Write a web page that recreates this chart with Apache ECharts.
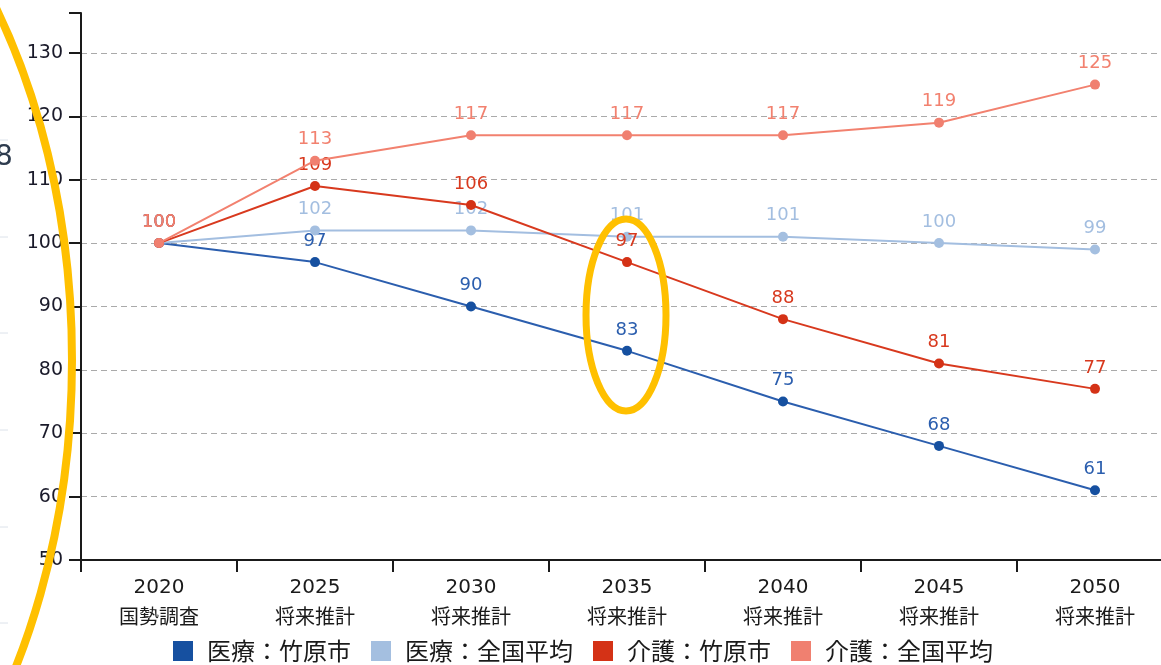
<!DOCTYPE html>
<html>
<head>
<meta charset="utf-8">
<script src="https://cdn.jsdelivr.net/npm/echarts@6/dist/echarts.min.js"></script>
<style>
html,body{margin:0;padding:0;background:#fff;}
#main{width:1161px;height:665px;}
</style>
</head>
<body>
<div id="main"></div>
<script>
const years = ['2020', '2025', '2030', '2035', '2040', '2045', '2050'];
const kinds = ['国勢調査', '将来推計', '将来推計', '将来推計', '将来推計', '将来推計', '将来推計'];
const seriesNames = ['医療：竹原市', '医療：全国平均', '介護：竹原市', '介護：全国平均'];
const iryoTakehara = [100, 97, 90, 83, 75, 68, 61];
const iryoZenkoku = [100, 102, 102, 101, 101, 100, 99];
const kaigoTakehara = [100, 109, 106, 97, 88, 81, 77];
const kaigoZenkoku = [100, 113, 117, 117, 117, 119, 125];
const yTicks = [50, 60, 70, 80, 90, 100, 110, 120, 130];

const colors = ['#2b5eae', '#a3bee0', '#d8391e', '#f2816f'];
const legendColors = ['#1650a0', '#a4bfe0', '#d43216', '#f08070'];
const values = [iryoTakehara, iryoZenkoku, kaigoTakehara, kaigoZenkoku];

const chart = echarts.init(document.getElementById('main'));
const categories = years.map((y, i) => y + '\n' + kinds[i]);

const series = seriesNames.map((name, i) => ({
  name: name,
  type: 'line',
  data: values[i],
  symbol: 'circle',
  symbolSize: 10,
  showSymbol: true,
  lineStyle: { color: colors[i], width: 2 },
  itemStyle: { color: legendColors[i] },
  label: {
    show: true,
    position: 'top',
    distance: 7,
    color: colors[i],
    fontSize: 18,
    fontFamily: 'DejaVu Sans'
  },
  emphasis: { disabled: true },
  z: 2 + i
}));

const leftLines = [140, 237, 333, 430, 527, 623].map(y => ({
  type: 'line',
  shape: { x1: 0, y1: y, x2: 8, y2: y },
  style: { stroke: '#dce2ea', lineWidth: 1 },
  z: 50
}));

chart.setOption({
  animation: false,
  backgroundColor: '#fff',
  grid: { left: 81, width: 1092, top: 13, bottom: 105, containLabel: false, outerBoundsMode: 'none' },
  legend: {
    data: seriesNames,
    left: 168,
    top: 634,
    icon: 'rect',
    itemWidth: 20,
    itemHeight: 20,
    itemGap: 20,
    textStyle: {
      fontSize: 24,
      color: '#1a1a1a',
      fontFamily: 'Noto Sans CJK JP',
      padding: [0, 0, 0, 9]
    }
  },
  xAxis: {
    type: 'category',
    data: categories,
    boundaryGap: true,
    axisLine: { lineStyle: { color: '#1a1a1a', width: 2 } },
    axisTick: { show: true, length: 12, lineStyle: { color: '#1a1a1a', width: 2 } },
    axisLabel: {
      color: '#1a1a1a',
      fontSize: 20,
      lineHeight: 31,
      margin: 12,
      fontFamily: "'DejaVu Sans', 'Noto Sans CJK JP'"
    },
    splitLine: { show: false }
  },
  yAxis: {
    type: 'value',
    min: yTicks[0],
    max: 136.3,
    interval: 10,
    axisLine: { show: true, lineStyle: { color: '#1a1a1a', width: 2 } },
    axisTick: { show: true, length: 12, lineStyle: { color: '#1a1a1a', width: 2 } },
    axisLabel: {
      color: '#1a1a2a',
      fontSize: 19,
      margin: 18,
      fontFamily: 'DejaVu Sans',
      formatter: v => (yTicks.indexOf(Math.round(v)) >= 0 && Math.abs(v - Math.round(v)) < 1e-6) ? String(Math.round(v)) : ''
    },
    splitLine: {
      show: true,
      showMaxLine: false,
      lineStyle: { color: '#aaaaaa', type: [6, 4], width: 1 }
    }
  },
  series: series,
  graphic: [
    ...leftLines,
    {
      type: 'text',
      left: -5,
      top: 144,
      style: { text: '8', font: '28px DejaVu Sans', fill: '#2d3b4e' },
      z: 50
    },
    {
      type: 'ellipse',
      shape: { cx: 626, cy: 315, rx: 40, ry: 96 },
      style: { fill: 'none', stroke: '#FFC000', lineWidth: 7 },
      z: 100
    },
    {
      type: 'ellipse',
      shape: { cx: -328, cy: 360, rx: 400, ry: 600 },
      style: { fill: 'none', stroke: '#FFC000', lineWidth: 8 },
      z: 100
    }
  ]
});
</script>
</body>
</html>
